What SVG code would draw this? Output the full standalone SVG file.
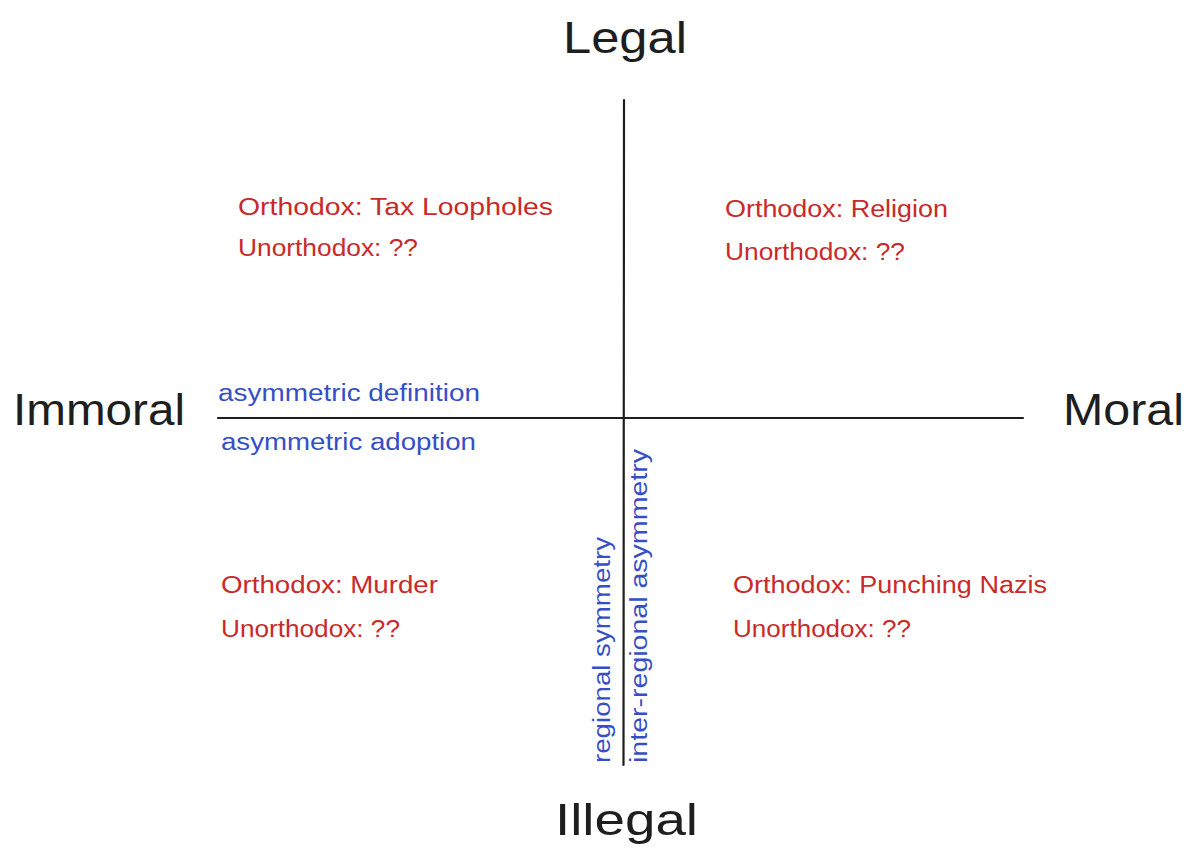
<svg xmlns="http://www.w3.org/2000/svg" width="1200" height="866" viewBox="0 0 1200 866">
<style>
.axis{stroke:#1e1e1e;stroke-width:2.2;fill:none;stroke-linecap:round}
.big{font-family:"Liberation Sans",Arial,sans-serif;font-size:44px;fill:#1e1e1e}
.red{font-family:"Liberation Sans",Arial,sans-serif;font-size:23px;fill:#c92a2a}
.blue{font-family:"Liberation Sans",Arial,sans-serif;font-size:23px;fill:#364fc7}
</style>
<rect width="1200" height="866" fill="#ffffff"/>
<g id="connectors">
<path class="axis" d="M624 100 L623.5 765"/>
<path class="axis" d="M218 418 L1023 418"/>
</g>
<g id="legal"><text class="big" x="563" y="53" textLength="124" lengthAdjust="spacingAndGlyphs">Legal</text></g>
<g id="illegal"><text class="big" x="555" y="835" textLength="143" lengthAdjust="spacingAndGlyphs">Illegal</text></g>
<g id="immoral"><text class="big" x="13" y="425" textLength="172" lengthAdjust="spacingAndGlyphs">Immoral</text></g>
<g id="moral"><text class="big" x="1063" y="425" textLength="121" lengthAdjust="spacingAndGlyphs">Moral</text></g>
<g id="q-top-left">
<text class="red" x="238" y="215" textLength="315" lengthAdjust="spacingAndGlyphs">Orthodox: Tax Loopholes</text>
<text class="red" x="238" y="256" textLength="180" lengthAdjust="spacingAndGlyphs">Unorthodox: ??</text>
</g>
<g id="q-top-right">
<text class="red" x="725" y="217" textLength="223" lengthAdjust="spacingAndGlyphs">Orthodox: Religion</text>
<text class="red" x="725" y="260" textLength="180" lengthAdjust="spacingAndGlyphs">Unorthodox: ??</text>
</g>
<g id="q-bottom-left">
<text class="red" x="221" y="593" textLength="217" lengthAdjust="spacingAndGlyphs">Orthodox: Murder</text>
<text class="red" x="221" y="637" textLength="179" lengthAdjust="spacingAndGlyphs">Unorthodox: ??</text>
</g>
<g id="q-bottom-right">
<text class="red" x="733" y="593" textLength="314" lengthAdjust="spacingAndGlyphs">Orthodox: Punching Nazis</text>
<text class="red" x="733" y="637" textLength="178" lengthAdjust="spacingAndGlyphs">Unorthodox: ??</text>
</g>
<g id="axis-labels">
<text class="blue" x="218" y="401" textLength="262" lengthAdjust="spacingAndGlyphs">asymmetric definition</text>
<text class="blue" x="221" y="450" textLength="255" lengthAdjust="spacingAndGlyphs">asymmetric adoption</text>
<text class="blue" transform="translate(610 763) rotate(-90)" x="0" y="0" textLength="226" lengthAdjust="spacingAndGlyphs">regional symmetry</text>
<text class="blue" transform="translate(647 763) rotate(-90)" x="0" y="0" textLength="314" lengthAdjust="spacingAndGlyphs">inter-regional asymmetry</text>
</g>
</svg>
